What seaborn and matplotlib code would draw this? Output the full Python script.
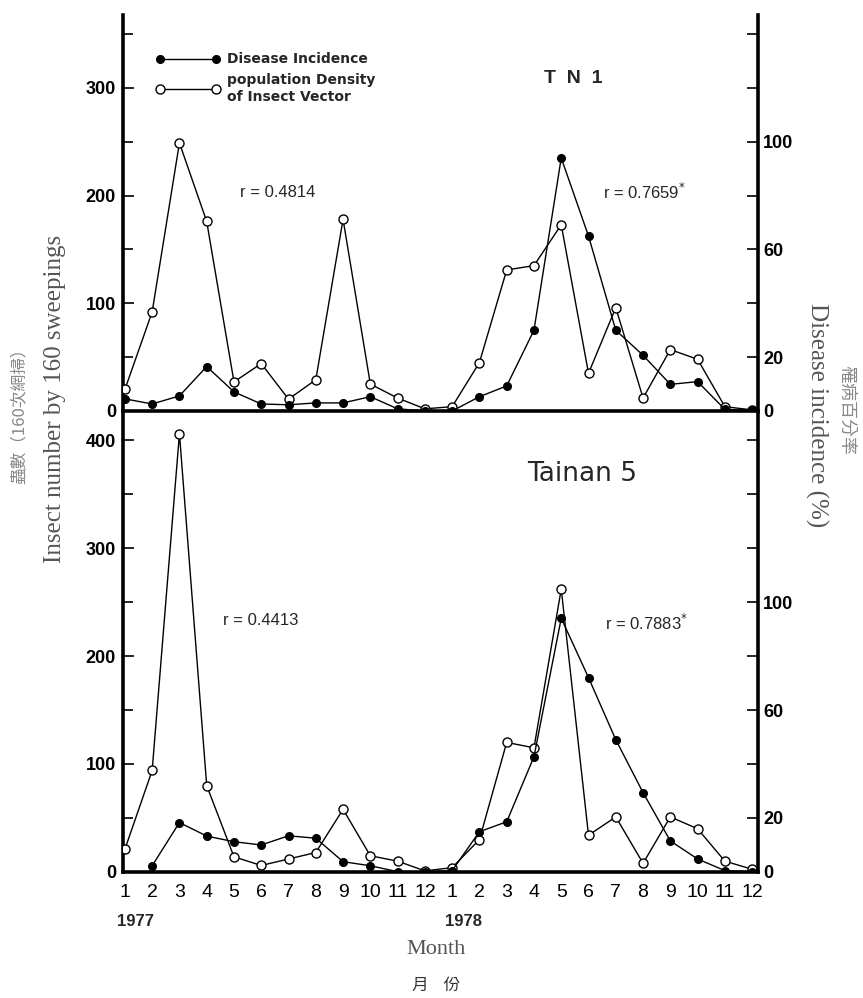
import numpy as np
import pandas as pd
import matplotlib
matplotlib.use("Agg")
import matplotlib.pyplot as plt
from matplotlib.lines import Line2D
from matplotlib.ticker import FixedLocator, FixedFormatter, MultipleLocator
import seaborn as sns

# ---------------- data ----------------
month_labels = [str(m) for m in range(1, 13)] * 2
year_labels = ["1977", "1978"]

tn1_insect = [20, 92, 249, 176, 27, 44, 11, 29, 178, 25, 12, 2,
              4, 45, 131, 135, 173, 35, 96, 12, 57, 48, 4, 1]
tn1_disease = [4.5, 2.6, 5.6, 16.5, 7.1, 2.6, 2.3, 3.0, 3.0, 5.3, 0.8, 0.0,
               0.0, 5.3, 9.3, 30, 94, 65, 30, 20.7, 9.9, 10.9, 0.6, 0.2]

tn5_insect = [21, 94, 406, 80, 14, 6, 12, 18, 58, 15, 10, 1,
              4, 30, 120, 115, 262, 34, 51, 8, 51, 40, 10, 2.5]
tn5_disease = [np.nan, 2.3, 18.3, 13.3, 11.2, 10, 13.4, 12.5, 3.8, 2.3, 0.1, 0.0,
               0.5, 14.9, 18.6, 42.7, 94, 72, 49, 29.4, 11.5, 4.8, 0.5, 0.0]

r_top = ["r = 0.4814", "r = 0.7659$^{*}$"]
r_bot = ["r = 0.4413", "r = 0.7883$^{*}$"]

# ---------------- style ----------------
sns.set_style("white")
plt.rcParams["font.family"] = ["Liberation Sans", "DejaVu Sans"]
plt.rcParams["axes.edgecolor"] = "black"
plt.rcParams["xtick.color"] = "black"
plt.rcParams["ytick.color"] = "black"

fig = plt.figure(figsize=(8.63, 9.98), dpi=100)
ax_top = fig.add_axes([0.1425, 0.5882, 0.736, 0.397])
ax_bot = fig.add_axes([0.1425, 0.1263, 0.736, 0.4619])

idx = np.arange(24)
df_top = pd.DataFrame({"idx": idx, "insect": tn1_insect, "disease": tn1_disease})
df_bot = pd.DataFrame({"idx": idx, "insect": tn5_insect, "disease": tn5_disease})

lw_spine = 2.6


def draw_panel(ax, df, left_max, left_major, right_labels_at, right_max, bottom_axis):
    ax2 = ax.twinx()
    sns.lineplot(data=df, x="idx", y="insect", ax=ax, color="black", lw=1.0,
                 marker="o", markersize=6.5, markerfacecolor="white",
                 markeredgecolor="black", markeredgewidth=1.0, zorder=3)
    sns.lineplot(data=df.dropna(), x="idx", y="disease", ax=ax2, color="black", lw=1.0,
                 marker="o", markersize=5.5, markerfacecolor="black",
                 markeredgecolor="black", markeredgewidth=1.0, zorder=3)
    for a in (ax, ax2):
        a.set_xlim(-0.07, 23.22)
        a.set_xlabel("")
        a.set_ylabel("")
        a.set_facecolor("none")
    ax.set_ylim(0, left_max)
    ax2.set_ylim(0, right_max)

    # left axis ticks
    ax.yaxis.set_major_locator(FixedLocator(left_major))
    ax.yaxis.set_minor_locator(FixedLocator([v + 50 for v in left_major if v + 50 < left_max]))
    ax.tick_params(axis="y", which="major", direction="in", length=8, width=1.2,
                   labelsize=13, pad=5)
    ax.tick_params(axis="y", which="minor", direction="in", length=7, width=1.2)
    for lab in ax.get_yticklabels():
        lab.set_fontweight("bold")

    # right axis ticks
    rt = list(range(0, int(right_max) + 1, 20))
    ax2.yaxis.set_major_locator(FixedLocator(rt))
    ax2.yaxis.set_major_formatter(FixedFormatter([str(v) if v in right_labels_at else "" for v in rt]))
    ax2.tick_params(axis="y", which="major", direction="in", length=8, width=1.2,
                    labelsize=13, pad=3.5)
    for lab in ax2.get_yticklabels():
        lab.set_fontweight("bold")

    # spines
    for s in ["top", "right"]:
        ax.spines[s].set_visible(False)
    for s in ["top", "left", "bottom"]:
        ax2.spines[s].set_visible(False)
    ax.spines["left"].set_linewidth(lw_spine)
    ax.spines["bottom"].set_linewidth(lw_spine)
    ax2.spines["right"].set_linewidth(lw_spine)

    ax.set_xticks(idx)
    if bottom_axis:
        ax.set_xticklabels(month_labels)
        ax.tick_params(axis="x", direction="out", length=7, width=1.3, labelsize=14, pad=2)
    else:
        ax.tick_params(axis="x", bottom=False, labelbottom=False)
    ax2.tick_params(axis="x", bottom=False, labelbottom=False)
    return ax2


ax2_top = draw_panel(ax_top, df_top, 368, [0, 100, 200, 300], [0, 20, 60, 100], 147.2, False)
ax_bot.spines["top"].set_visible(False)
ax2_bot = draw_panel(ax_bot, df_bot, 427, [0, 100, 200, 300, 400], [0, 20, 60, 100], 170.8, True)

# panel annotations
ax_top.text(16.44, 309, "T  N  1", ha="center", va="center", fontsize=14, fontweight="bold")
ax_top.text(5.61, 203, r_top[0], ha="center", va="center", fontsize=12)
ax_top.text(19.05, 203, r_top[1], ha="center", va="center", fontsize=12)
ax_bot.text(16.77, 369, "Tainan 5", ha="center", va="center", fontsize=19,
            family=["DejaVu Sans"])
ax_bot.text(4.99, 233, r_bot[0], ha="center", va="center", fontsize=12)
ax_bot.text(19.12, 231, r_bot[1], ha="center", va="center", fontsize=12)

# year labels
for i, yl in zip([0, 12], year_labels):
    ax_bot.text(i + 0.4, -0.108, yl, transform=ax_bot.get_xaxis_transform(),
                ha="center", va="center", fontsize=12, fontweight="bold")

# legend
handles = [
    Line2D([], [], color="black", lw=1.0, marker="o", markersize=5.5,
           markerfacecolor="black", markeredgecolor="black"),
    Line2D([], [], color="black", lw=1.0, marker="o", markersize=6.5,
           markerfacecolor="white", markeredgecolor="black"),
]
leg = ax2_top.legend(handles, ["Disease Incidence", "population Density\nof Insect Vector"],
                     loc="upper left", bbox_to_anchor=(0.052, 0.905), numpoints=2,
                     handlelength=4.6, handletextpad=0.5, labelspacing=0.5,
                     frameon=False, borderpad=0, borderaxespad=0,
                     prop={"family": "DejaVu Sans", "weight": "bold", "size": 10})

# axis titles
gray = "#555555"
lgray = "#888888"
cjk = ["Noto Sans CJK TC", "DejaVu Sans"]
fig.text(55 / 863, 1 - 399 / 998, "Insect number by 160 sweepings", rotation=90,
         ha="center", va="center", fontsize=18, color=gray, family=["Liberation Serif"])
fig.text(20 / 863, 1 - 412 / 998, "蟲數（160次網掃）", rotation=90,
         ha="center", va="center", fontsize=12, color=lgray, family=cjk)
fig.text(817 / 863, 1 - 415 / 998, "Disease incidence (%)", rotation=270,
         ha="center", va="center", fontsize=18, color=gray, family=["Liberation Serif"])
fig.text(846 / 863, 1 - 410 / 998, "罹病百分率", rotation=270,
         ha="center", va="center", fontsize=13, color=lgray, family=cjk)
fig.text(436 / 863, 1 - 950 / 998, "Month", ha="center", va="center",
         fontsize=16, color=gray, family=["Liberation Serif"])
fig.text(436 / 863, 1 - 985 / 998, "月    份", ha="center", va="center",
         fontsize=12, color="#333333", family=cjk)

fig.savefig("out.png", dpi=100)
